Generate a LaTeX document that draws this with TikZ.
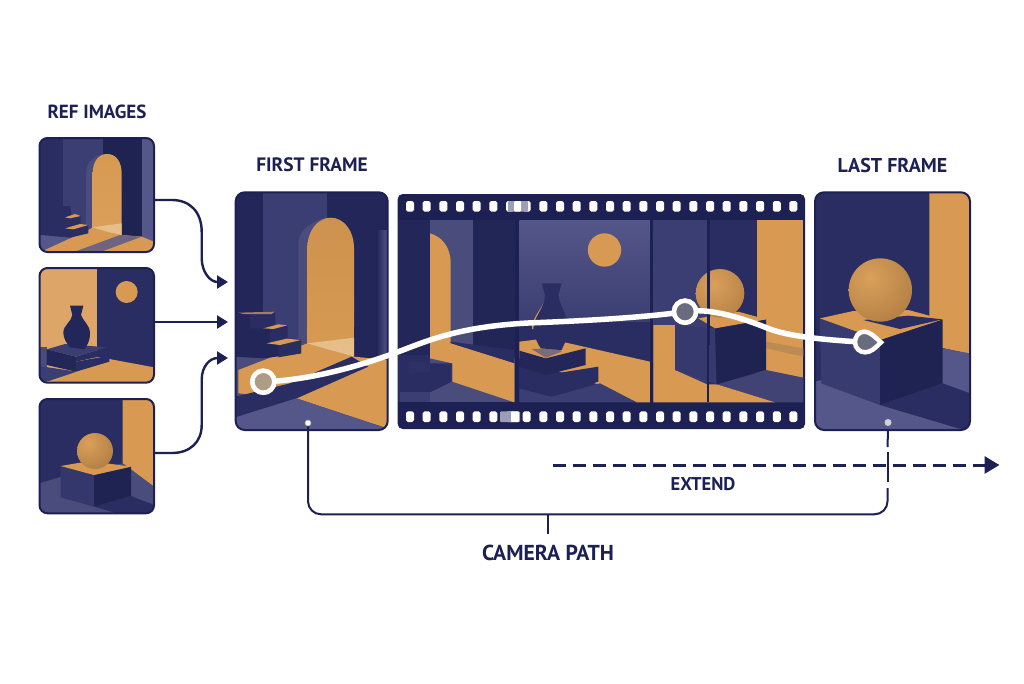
\documentclass[tikz,border=0pt]{standalone}
\usepackage{fontspec}
\setmainfont{PT Sans}
\usetikzlibrary{arrows.meta}
\definecolor{ink}{HTML}{1C2052}
\definecolor{dark}{HTML}{232659}
\definecolor{navy}{HTML}{2A2D61}
\definecolor{deep}{HTML}{1F2352}
\definecolor{mid}{HTML}{3B3E72}
\definecolor{soft}{HTML}{4A4C7C}
\definecolor{lite}{HTML}{55568A}
\definecolor{orange}{HTML}{D89A52}
\definecolor{lorange}{HTML}{E6BE8A}
\definecolor{wallor}{HTML}{DDA668}
\tikzset{
  zoomed/.style 2 args={shift={(#1,#2)},x=0.33333pt,y=-0.33333pt},
  panel/.style={draw=ink,line width=2pt,rounded corners=8pt,inner sep=0pt,outer sep=0pt},
  lab/.style={text=ink,font=\bfseries\fontsize{#1}{22}\selectfont,inner sep=0pt},
  conn/.style={draw=ink,line width=2.4pt},
  tip/.style={-{Triangle[length=11pt,width=13pt]}},
  pathline/.style={draw=white,line width=5.5pt,line cap=round},
  mark1/.style={circle,draw=white,line width=4.5pt,inner sep=0pt,outer sep=0pt,minimum size=22pt},
  hole/.style={fill=white,rounded corners=1.8pt},
}
\newcommand{\holesat}[1]{\foreach \k in {0,...,23}{\fill[hole] ({410+16.67*\k-4},{#1-5.3}) rectangle ({410+16.67*\k+4},{#1+5.3});}}
\begin{document}
\begin{tikzpicture}[x=1pt,y=-1pt]
\useasboundingbox (0,0) rectangle (1024,683);
\fill[white] (0,0) rectangle (1024,683);

% ---------- reference 1
\begin{scope}
\clip[rounded corners=8pt] (39.5,138) rectangle (154,252);
\begin{scope}[zoomed={20}{90}]
\fill[navy] (58,145) rectangle (402,487);
\fill[mid] (128,145) rectangle (250,440);
\fill[deep] (250,145) rectangle (365,440);
\fill[lite] (365,145) rectangle (402,440);
\fill[soft] (198,420) -- (198,250) .. controls (198,215) and (225,195) .. (255,192) -- (262,420) -- cycle;
\shade[top color=orange,bottom color=orange!85!lorange] (218,415) -- (218,250) .. controls (218,215) and (235,192) .. (262,192) .. controls (288,192) and (305,215) .. (305,250) -- (305,435) -- cycle;
\fill[lite] (58,435) -- (402,440) -- (402,487) -- (58,487) -- cycle;
\fill[orange] (70,482) -- (205,420) -- (218,412) -- (305,435) -- (365,440) -- (402,455) -- (402,487) -- (70,487) -- cycle;
\fill[lorange] (218,412) -- (305,400) -- (305,435) -- (260,425) -- cycle;
\fill[lite!80!orange] (170,483) -- (300,435) -- (365,440) -- (250,483) -- cycle;
\fill[navy] (65,350) -- (150,348) -- (155,378) -- (182,378) -- (182,405) -- (205,405) -- (205,430) -- (150,443) -- (65,435) -- cycle;
\fill[orange] (135,382) -- (165,372) -- (182,378) -- (150,385) -- cycle;
\fill[orange] (135,415) -- (180,402) -- (205,405) -- (160,418) -- cycle;
\end{scope}
\end{scope}
\node[panel,minimum width=114.5pt,minimum height=114pt] (ref1) at (96.75,195) {};

% ---------- reference 2
\begin{scope}
\clip[rounded corners=8pt] (39.5,268) rectangle (154,382.7);
\begin{scope}[zoomed={20}{260}]
\fill[wallor] (58,25) rectangle (232,368);
\fill[navy] (232,25) rectangle (402,368);
\fill[orange] (232,290) -- (268,297) -- (402,322) -- (402,368) -- (90,368) -- (180,330) -- cycle;
\fill[soft] (58,262) rectangle (80,320);
\fill[mid] (58,318) -- (170,335) -- (90,362) -- (58,368) -- cycle;
\fill[mid] (80,268) -- (135,252) -- (260,262) -- (168,290) -- cycle;
\fill[dark] (80,268) -- (168,290) -- (168,335) -- (80,315) -- cycle;
\fill[navy] (168,290) -- (260,262) -- (260,285) -- (168,305) -- cycle;
\fill[navy] (168,305) -- (268,287) -- (268,305) -- (168,335) -- cycle;
\fill[dark] (150,137) -- (190,137) -- (183,165) .. controls (190,185) and (210,195) .. (210,220) .. controls (210,245) and (200,258) .. (193,268) -- (150,262) .. controls (140,250) and (130,235) .. (130,218) .. controls (130,195) and (155,185) .. (157,165) -- cycle;
\fill[orange] (320,96) circle (33);
\end{scope}
\end{scope}
\node[panel,minimum width=114.5pt,minimum height=114.7pt] (ref2) at (96.75,325.35) {};

% ---------- reference 3
\begin{scope}
\clip[rounded corners=8pt] (39.5,399) rectangle (154,513.3);
\begin{scope}[zoomed={20}{260}]
\fill[navy] (58,417) rectangle (402,760);
\fill[orange] (308,417) -- (402,417) -- (402,680) -- (308,610) -- cycle;
\fill[soft] (58,670) -- (125,650) -- (308,610) -- (402,680) -- (402,760) -- (58,760) -- cycle;
\fill[navy] (222,740) -- (333,708) -- (402,735) -- (402,760) -- (290,760) -- cycle;
\fill[mid!60!navy] (122,618) -- (222,645) -- (222,740) -- (122,712) -- cycle;
\fill[deep] (222,645) -- (333,620) -- (333,708) -- (222,740) -- cycle;
\fill[orange] (122,618) -- (210,603) -- (333,620) -- (222,645) -- cycle;
\begin{scope}
\clip (225,573) circle (54);
\shade[inner color=orange!85!lorange,outer color=orange!80!black] (205,550) circle (95);
\end{scope}
\end{scope}
\end{scope}
\node[panel,minimum width=114.5pt,minimum height=114.3pt] (ref3) at (96.75,456.15) {};

% ---------- first frame
\begin{scope}
\clip[rounded corners=9pt] (235.7,192.3) rectangle (387.7,430);
\begin{scope}[zoomed={230}{180}]
\fill[dark] (17,37) rectangle (473,750);
\fill[mid] (98,37) rectangle (290,530);
\fill[soft] (205,500) -- (205,190) .. controls (205,150) and (250,118) .. (295,113) -- (300,500) -- cycle;
\shade[top color=orange!95!black,bottom color=orange] (232,495) -- (232,205) .. controls (232,150) and (265,113) .. (302,113) .. controls (340,113) and (372,150) .. (372,205) -- (372,530) -- cycle;
\shade[left color=dark,right color=lite] (440,150) rectangle (473,530);
\fill[soft] (17,510) rectangle (473,750);
\fill[dark] (372,440) rectangle (440,535);
\shade[left color=dark,right color=lite] (440,440) rectangle (473,535);
\fill[orange] (25,570) -- (232,490) -- (372,530) -- (473,540) -- (473,745) -- (200,655) -- (25,640) -- cycle;
\fill[lorange] (232,490) -- (372,473) -- (372,530) -- (300,510) -- cycle;
\fill[navy] (17,650) -- (180,610) -- (365,530) -- (415,560) -- (200,655) -- (17,712) -- cycle;
\fill[lite] (17,712) -- (200,655) -- (450,740) -- (473,750) -- (17,750) -- cycle;
\fill[dark] (17,398) -- (135,395) -- (135,435) -- (172,435) -- (172,478) -- (213,478) -- (213,520) -- (100,535) -- (17,530) -- cycle;
\fill[navy] (60,402) -- (135,400) -- (135,435) -- (100,445) -- (60,445) -- cycle;
\fill[navy] (120,445) -- (172,440) -- (172,478) -- (120,490) -- cycle;
\fill[navy] (145,495) -- (213,482) -- (213,520) -- (145,532) -- cycle;
\fill[orange!70!mid] (25,398) -- (135,395) -- (125,402) -- (40,402) -- cycle;
\fill[orange] (100,445) -- (145,433) -- (172,436) -- (130,447) -- cycle;
\fill[orange] (110,490) -- (170,476) -- (213,480) -- (150,495) -- cycle;
\end{scope}
\end{scope}
\node[panel,minimum width=152pt,minimum height=237.7pt,rounded corners=9pt] (first) at (311.7,311.15) {};

% ---------- film strip
\node[fill=ink,rounded corners=5pt,inner sep=0pt,outer sep=0pt,minimum width=407.3pt,minimum height=235pt] (film) at (601.35,311.5) {};
\begin{scope}[zoomed={395}{185}]
% frame A
\fill[dark] (8,105) rectangle (360,652);
\fill[soft] (105,105) rectangle (233,480);
\fill[deep!70!navy] (233,105) rectangle (360,535);
\shade[top color=orange,bottom color=orange] (105,145) .. controls (140,155) and (167,185) .. (167,235) -- (167,480) -- (105,500) -- cycle;
\fill[soft] (105,520) rectangle (360,652);
\fill[navy] (167,470) -- (358,495) -- (358,535) -- (167,480) -- cycle;
\fill[orange] (105,495) -- (167,475) -- (358,535) -- (358,652) -- (172,590) -- (172,535) -- (105,520) -- cycle;
\fill[navy] (8,510) rectangle (105,652);
\fill[mid] (15,622) -- (105,622) -- (105,652) -- (15,652) -- cycle;
\fill[navy] (105,535) -- (170,535) -- (170,590) -- (105,622) -- cycle;
\fill[navy!80!mid] (40,530) -- (105,530) -- (105,560) -- (40,565) -- cycle;
% frame B
\shade[top color=lite,bottom color=mid] (373,105) rectangle (765,415);
\fill[navy] (373,410) rectangle (765,652);
\fill[orange] (373,470) -- (430,463) -- (500,470) -- (765,530) -- (765,652) -- (725,652) -- (615,600) -- (373,520) -- cycle;
\fill[mid] (373,610) -- (470,635) -- (615,595) -- (725,652) -- (373,652) -- cycle;
\fill[navy] (373,545) -- (452,570) -- (610,545) -- (610,590) -- (470,635) -- (373,610) -- cycle;
\fill[dark] (373,497) -- (452,520) -- (572,490) -- (572,540) -- (452,570) -- (373,545) -- cycle;
\fill[lite!70!orange] (410,492) -- (490,490) -- (500,500) -- (452,518) -- cycle;
\fill[orange] (448,350) .. controls (435,378) and (410,400) .. (411,432) -- (430,432) -- cycle;
\fill[navy] (440,295) -- (500,295) -- (490,330) .. controls (495,365) and (520,395) .. (520,430) .. controls (520,460) and (505,480) .. (500,495) -- (437,490) .. controls (425,470) and (415,450) .. (415,430) .. controls (415,395) and (450,370) .. (450,330) -- cycle;
\fill[orange] (628.5,195) circle (50);
\end{scope}
\begin{scope}[zoomed={600}{185}]
% frame C
\fill[mid] (150,105) rectangle (325,652);
\fill[orange] (160,420) -- (225,420) -- (225,555) -- (325,600) -- (325,652) -- (160,652) -- cycle;
% frame D
\fill[navy] (325,105) rectangle (472,652);
\fill[orange] (472,105) rectangle (610,578);
\fill[soft!70!navy] (498,555) -- (610,578) -- (610,652) -- (525,652) -- (350,598) -- cycle;
\fill[orange] (325,598) -- (350,598) -- (525,652) -- (325,652) -- cycle;
\fill[orange!85!navy] (498,470) -- (610,490) -- (610,515) -- (498,490) -- cycle;
\fill[mid!70!navy] (225,420) -- (345,430) -- (350,598) -- (225,555) -- cycle;
\fill[deep] (345,430) -- (498,403) -- (498,555) -- (350,598) -- cycle;
\fill[orange] (295,400) -- (415,380) -- (498,403) -- (345,430) -- cycle;
\begin{scope}
\clip (360,325) circle (73);
\shade[inner color=orange!85!lorange,outer color=orange!82!black] (340,300) circle (125);
\end{scope}
\fill[ink] (150,105) rectangle (160,652);
\fill[ink] (322,105) rectangle (329,480);
\fill[ink] (322,480) rectangle (327,652);
\end{scope}
\holesat{206.3}
\holesat{416.7}
\fill[soft!55!white,rounded corners=1pt] (508,201) rectangle (528,211.6);
\fill[white,rounded corners=1pt] (514,201) rectangle (521,211.6);
\fill[soft!55!white,rounded corners=1pt] (500,411.4) rectangle (520,422);
\fill[white,rounded corners=1pt] (511,411.4) rectangle (519,422);

% ---------- last frame
\begin{scope}
\clip[rounded corners=9pt] (815,192.3) rectangle (970,430);
\begin{scope}[zoomed={805}{185}]
\fill[navy] (30,22) rectangle (495,735);
\fill[orange] (373,22) -- (495,22) -- (495,507) -- (373,480) -- cycle;
\fill[lite] (30,590) -- (413,490) -- (495,505) -- (495,735) -- (30,735) -- cycle;
\fill[navy] (413,595) -- (495,625) -- (495,735) -- (460,730) -- (225,660) -- cycle;
\fill[mid!80!navy] (45,400) -- (225,465) -- (225,660) -- (48,595) -- cycle;
\fill[deep] (225,465) -- (413,403) -- (413,595) -- (225,660) -- cycle;
\fill[orange] (45,400) -- (145,378) -- (310,375) -- (413,403) -- (225,465) -- cycle;
\fill[navy] (175,405) -- (310,392) -- (413,403) -- (285,432) -- cycle;
\begin{scope}
\clip (226,315) circle (95);
\shade[inner color=orange!85!lorange,outer color=orange!80!black] (195,280) circle (165);
\end{scope}
\end{scope}
\end{scope}
\node[panel,minimum width=155pt,minimum height=237.7pt,rounded corners=9pt] (last) at (892.5,311.15) {};

% ---------- camera path
\coordinate (pa) at (395,353);
\coordinate (pb) at (528,323);
\coordinate (pc) at (767,328);
\coordinate (m3) at (865,342.3);
\node[mark1,fill=lorange!45!gray] (m1) at (263.3,381.7) {};
\node[mark1,fill=gray!60!soft] (m2) at (685,311.7) {};
\draw[pathline] (m1.center) .. controls (295,381) and (340,373) .. (pa)
  .. controls (425,342) and (455,327) .. (pb)
  .. controls (580,321) and (640,318) .. (m2.center)
  .. controls (700,309) and (725,311) .. (pc)
  .. controls (785,335) and (810,339) .. (m3);
\node[mark1,fill=lorange!45!gray] at (m1) {};
\node[mark1,fill=gray!60!soft] at (m2) {};
\begin{scope}[zoomed={805}{185}]
\filldraw[fill=gray!60!soft,draw=white,line width=4.5pt,miter limit=4] (228,472) .. controls (208,455) and (195,440) .. (178,440) .. controls (160,440) and (150,455) .. (150,472) .. controls (150,490) and (165,502) .. (180,502) .. controls (198,502) and (212,488) .. (228,472) -- cycle;
\end{scope}

% ---------- ports
\node[circle,fill=white,draw=gray!70,line width=0.6pt,inner sep=0pt,minimum size=6pt] (p1) at (308,423) {};
\node[circle,fill=gray!35,inner sep=0pt,minimum size=7pt] (p2) at (888,422.5) {};

% ---------- labels
\node[lab=19] (lref) at (97,112) {REF IMAGES};
\node[lab=19.4] (lfirst) at (312,165) {FIRST FRAME};
\node[lab=20] (llast) at (892.5,165) {LAST FRAME};
\node[lab=18.5] (lext) at (703,484) {EXTEND};
\node[lab=21.6] (lcam) at (548,553) {CAMERA PATH};

% ---------- connectors
\coordinate (t1) at (228,282);
\coordinate (t2) at (228,322);
\coordinate (t3) at (228,358);
\draw[conn,tip] (ref1.east |- 0,200) -- (172,200) .. controls (190,200) and (201.7,212) .. (201.7,232) -- (201.7,258) .. controls (201.7,272) and (210,282) .. (t1);
\draw[conn,tip] (ref2.east |- t2) -- (t2);
\draw[conn,tip] (ref3.east |- 0,453) -- (172,453) .. controls (190,453) and (201.7,442) .. (201.7,425) -- (201.7,380) .. controls (201.7,366) and (210,358) .. (t3);

\coordinate (bl) at (308,514.3);
\coordinate (br) at (887.5,514.3);
\coordinate (stem) at (547.5,514.3);
\draw[conn,line width=2pt,rounded corners=13pt] (p1.south) -- (bl) -- (br) -- (887.5,488);
\draw[conn,line width=2pt] (887.5,482) -- (887.5,452);
\draw[conn,line width=2pt] (887.5,447) -- (p2 |- last.south);
\draw[conn,line width=2pt,shorten >=10.5pt] (stem) -- (stem |- lcam.north);

\coordinate (e0) at (552.5,465);
\coordinate (e1) at (999.5,465);
\draw[conn,line width=3pt,dash pattern=on 13pt off 7pt,-{Triangle[length=15pt,width=17pt]}] (e0) -- (e1);
\end{tikzpicture}
\end{document}
